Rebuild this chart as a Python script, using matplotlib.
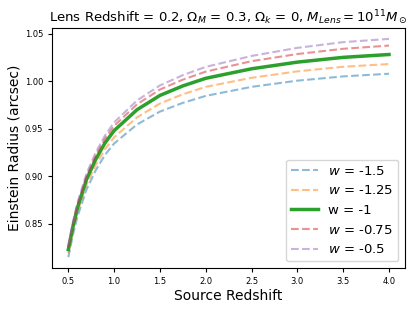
import matplotlib
matplotlib.use("Agg")
import matplotlib.pyplot as plt

# source redshift grid and Einstein radius (arcsec)
z_source = [0.5, 0.55, 0.6, 0.7, 0.8, 0.9, 1.0, 1.25, 1.5, 1.75, 2.0, 2.5, 3.0, 3.5, 4.0]

theta_w_m150 = [0.815, 0.8383, 0.8577, 0.8865, 0.9065, 0.9225, 0.9345, 0.9545, 0.968, 0.9772, 0.9845, 0.994, 1.0005, 1.005, 1.0078]
theta_w_m125 = [0.819, 0.8426, 0.8622, 0.8915, 0.912, 0.9285, 0.941, 0.962, 0.9765, 0.9862, 0.994, 1.0035, 1.0103, 1.0151, 1.018]
theta_w_m100 = [0.823, 0.847, 0.867, 0.897, 0.918, 0.935, 0.948, 0.970, 0.985, 0.995, 1.003, 1.013, 1.020, 1.025, 1.028]
theta_w_m075 = [0.8255, 0.8498, 0.870, 0.9005, 0.922, 0.9395, 0.953, 0.9757, 0.9912, 1.0016, 1.010, 1.021, 1.0285, 1.034, 1.0374]
theta_w_m050 = [0.8275, 0.852, 0.8725, 0.9033, 0.9251, 0.9429, 0.9567, 0.9797, 0.9955, 1.0063, 1.015, 1.0265, 1.035, 1.041, 1.0444]

fig = plt.figure(figsize=(4.15, 3.11), dpi=100)
ax = fig.add_axes([0.126, 0.138, 0.850, 0.772])

ax.plot(z_source, theta_w_m150, '--', color='C0', lw=1.5, alpha=0.5, label='$w$ = -1.5')
ax.plot(z_source, theta_w_m125, '--', color='C1', lw=1.5, alpha=0.5, label='$w$ = -1.25')
ax.plot(z_source, theta_w_m100, '-', color='C2', lw=2.5, label='w = -1')
ax.plot(z_source, theta_w_m075, '--', color='C3', lw=1.5, alpha=0.5, label='$w$ = -0.75')
ax.plot(z_source, theta_w_m050, '--', color='C4', lw=1.5, alpha=0.5, label='$w$ = -0.5')

ax.set_xticks([0.5, 1.0, 1.5, 2.0, 2.5, 3.0, 3.5, 4.0])
ax.set_yticks([0.85, 0.90, 0.95, 1.00, 1.05])
ax.tick_params(labelsize=6, length=3)

ax.set_xlabel('Source Redshift', fontsize=10, labelpad=2)
ax.set_ylabel('Einstein Radius (arcsec)', fontsize=10, labelpad=2)
ax.set_title(r'Lens Redshift = 0.2, $\Omega_M$ = 0.3, $\Omega_k$ = 0, $M_{Lens} = 10^{11} M_\odot$',
             fontsize=9.5, pad=4)
ax.legend(loc='lower right', fontsize=9.5)

fig.savefig('out.png', dpi=100)
